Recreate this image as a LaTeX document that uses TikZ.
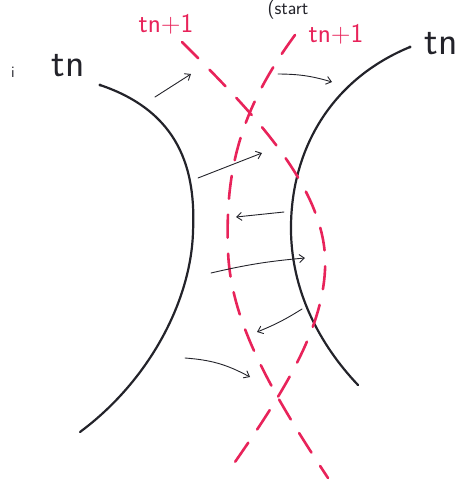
\documentclass[tikz,border=0pt]{standalone}
\usetikzlibrary{arrows.meta}
\definecolor{penred}{RGB}{232,35,90}
\definecolor{pen}{RGB}{35,35,42}
\begin{document}
\begin{tikzpicture}[x=1pt,y=-1pt,
  curve/.style={draw=pen,line width=2.2pt,line cap=round},
  reddash/.style={draw=penred,line width=2.6pt,line cap=round,dash pattern=on 23pt off 16pt},
  vec/.style={draw=pen,line width=0.9pt,line cap=round,-{Straight Barb[length=5pt,width=8pt]}},
  lbl/.style={text=pen,font=\sffamily\fontsize{40}{40}\selectfont,inner sep=0pt},
  rlbl/.style={text=penred,font=\sffamily\fontsize{27}{27}\selectfont,inner sep=0pt}]
\useasboundingbox (0,0) rectangle (465,482);
% text at top
\node[text=pen,font=\sffamily\fontsize{19}{19}\selectfont,inner sep=0pt,anchor=base] (top) at (288,14) {(start};
% labels
\node[lbl] (tnL) at (68,66) {tn};
\node[text=pen,font=\sffamily\fontsize{16}{16}\selectfont,inner sep=0pt] (iL) at (13,72) {i};
\node[lbl] (tnR) at (441,44) {tn};
\node[rlbl] (rL) at (166,24) {tn+1};
\node[rlbl] (rR) at (336,34) {tn+1};
% black curves
\coordinate (l0) at (100,85);
\coordinate (l1) at (193,232);
\coordinate (l2) at (80,432);
\coordinate (r0) at (410,47);
\coordinate (r1) at (291,225);
\coordinate (r2) at (358,385);
\fill[pen] (l0) circle (1.7pt);
\fill[pen] (r0) circle (1.7pt);
\draw[curve] (l0) .. controls (180,112) and (196,170) .. (l1)
                  .. controls (191,300) and (150,380) .. (l2);
\draw[curve] (r0) .. controls (330,80) and (292,150) .. (r1)
                  .. controls (290,290) and (320,345) .. (r2);
% red dashed curves
\coordinate (a0) at (182,42);
\coordinate (a1) at (325,270);
\coordinate (a2) at (235,462);
\coordinate (b0) at (295,35);
\coordinate (b1) at (228,250);
\coordinate (b2) at (328,478);
\draw[reddash] (a0) .. controls (250,110) and (330,190) .. (a1)
                    .. controls (322,330) and (285,390) .. (a2);
\draw[reddash] (b0) .. controls (240,110) and (225,170) .. (b1)
                    .. controls (230,320) and (270,390) .. (b2);
% arrows
\coordinate (v1s) at (155,97);  \coordinate (v1e) at (191,74);
\coordinate (v2s) at (278,74);  \coordinate (v2e) at (332,82);
\coordinate (v3s) at (198,178); \coordinate (v3e) at (262,153);
\coordinate (v4s) at (284,212); \coordinate (v4e) at (236,217);
\coordinate (v5s) at (211,273); \coordinate (v5e) at (305,258);
\coordinate (v6s) at (302,309); \coordinate (v6e) at (257,332);
\coordinate (v7s) at (185,358); \coordinate (v7e) at (250,377);
\draw[vec] (v1s) -- (v1e);
\draw[vec] (v2s) to[bend left=8] (v2e);
\draw[vec] (v3s) -- (v3e);
\draw[vec] (v4s) -- (v4e);
\draw[vec] (v5s) to[bend left=4] (v5e);
\draw[vec] (v6s) to[bend left=5] (v6e);
\draw[vec] (v7s) to[bend left=12] (v7e);
\end{tikzpicture}
\end{document}
